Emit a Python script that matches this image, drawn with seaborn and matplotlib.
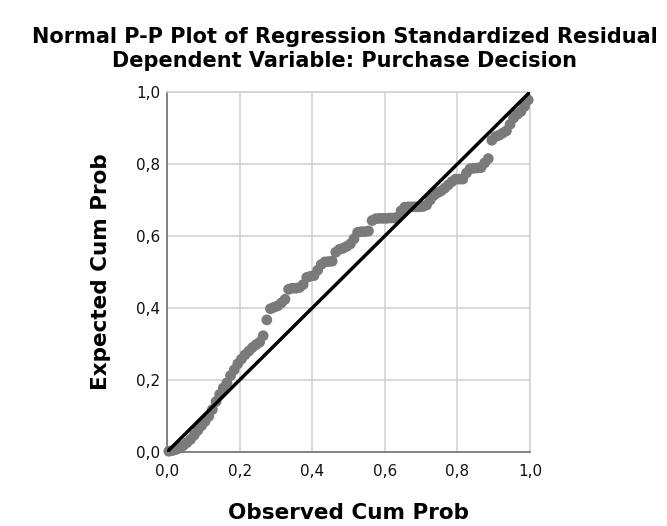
import matplotlib
matplotlib.use("Agg")
import matplotlib.pyplot as plt
import seaborn as sns
import pandas as pd

# ---- data ----
OBSERVED = [0.005, 0.015, 0.025, 0.035, 0.045, 0.055, 0.065, 0.075, 0.085, 0.095,
            0.105, 0.115, 0.125, 0.135, 0.145, 0.155, 0.165, 0.175, 0.185, 0.195,
            0.205, 0.215, 0.225, 0.235, 0.245, 0.255, 0.265, 0.275, 0.285, 0.295,
            0.305, 0.315, 0.325, 0.335, 0.345, 0.355, 0.365, 0.375, 0.385, 0.395,
            0.405, 0.415, 0.425, 0.435, 0.445, 0.455, 0.465, 0.475, 0.485, 0.495,
            0.505, 0.515, 0.525, 0.535, 0.545, 0.555, 0.565, 0.575, 0.585, 0.595,
            0.605, 0.615, 0.625, 0.635, 0.645, 0.655, 0.665, 0.675, 0.685, 0.695,
            0.705, 0.715, 0.725, 0.735, 0.745, 0.755, 0.765, 0.775, 0.785, 0.795,
            0.805, 0.815, 0.825, 0.835, 0.845, 0.855, 0.865, 0.875, 0.885, 0.895,
            0.905, 0.915, 0.925, 0.935, 0.945, 0.955, 0.965, 0.975, 0.985, 0.995]
EXPECTED = [0.002, 0.004, 0.007, 0.011, 0.018, 0.026, 0.035, 0.047, 0.060, 0.073,
            0.085, 0.099, 0.118, 0.140, 0.160, 0.178, 0.192, 0.212, 0.228, 0.245,
            0.258, 0.270, 0.280, 0.290, 0.298, 0.305, 0.323, 0.367, 0.398, 0.402,
            0.406, 0.414, 0.424, 0.452, 0.455, 0.455, 0.457, 0.465, 0.485, 0.488,
            0.490, 0.505, 0.521, 0.528, 0.529, 0.530, 0.555, 0.563, 0.566, 0.571,
            0.578, 0.592, 0.610, 0.612, 0.612, 0.614, 0.643, 0.648, 0.649, 0.649,
            0.649, 0.650, 0.650, 0.652, 0.670, 0.680, 0.681, 0.681, 0.681, 0.681,
            0.682, 0.686, 0.700, 0.713, 0.720, 0.725, 0.733, 0.742, 0.751, 0.758,
            0.758, 0.758, 0.775, 0.787, 0.788, 0.789, 0.790, 0.803, 0.815, 0.866,
            0.876, 0.880, 0.886, 0.892, 0.910, 0.928, 0.938, 0.946, 0.960, 0.978]
DIAG_X = [0.0, 1.0]
DIAG_Y = [0.0, 1.0]
TICKS = [0.0, 0.2, 0.4, 0.6, 0.8, 1.0]
TICK_LABELS = ["0,0", "0,2", "0,4", "0,6", "0,8", "1,0"]

TITLE = "Normal P-P Plot of Regression Standardized Residual\nDependent Variable: Purchase Decision"
XLABEL = "Observed Cum Prob"
YLABEL = "Expected Cum Prob"

sns.set_theme(style="white")
plt.rcParams['font.family'] = ['DejaVu Sans']
plt.rcParams['text.color'] = 'black'
plt.rcParams['axes.labelcolor'] = 'black'

df = pd.DataFrame({"obs": OBSERVED, "exp": EXPECTED})
diag = pd.DataFrame({"x": DIAG_X, "y": DIAG_Y})

fig = plt.figure(figsize=(6.67, 5.26), dpi=100)
ax = fig.add_axes([0.2504, 0.1407, 0.5442, 0.6844])

sns.scatterplot(data=df, x="obs", y="exp", ax=ax, color="#7a7a7a", s=60,
                edgecolor="none", clip_on=False, zorder=3)
sns.lineplot(data=diag, x="x", y="y", ax=ax, color="black", lw=2.5, zorder=4)

ax.set_xlim(0, 1)
ax.set_ylim(0, 1)
ax.set_xticks(TICKS)
ax.set_yticks(TICKS)
ax.set_xticklabels(TICK_LABELS, fontsize=11)
ax.set_yticklabels(TICK_LABELS, fontsize=11)
ax.tick_params(axis="x", length=0, pad=9, colors="#111111")
ax.tick_params(axis="y", length=0, pad=5, colors="#111111")
ax.grid(True, color="#cfcfcf", lw=1.1)
ax.set_axisbelow(True)

for side in ["top", "right"]:
    ax.spines[side].set_color("#cfcfcf")
    ax.spines[side].set_linewidth(1.1)
for side in ["left", "bottom"]:
    ax.spines[side].set_color("#666666")
    ax.spines[side].set_linewidth(1.1)

ax.set_xlabel(XLABEL, fontsize=15.5, fontweight="bold", labelpad=17)
ax.set_ylabel(YLABEL, fontsize=15.5, fontweight="bold", labelpad=18)

fig.text(0.517, 0.907, TITLE, ha="center", va="center", fontsize=15,
         fontweight="bold", linespacing=1.2)

fig.savefig("out.png", dpi=100)
